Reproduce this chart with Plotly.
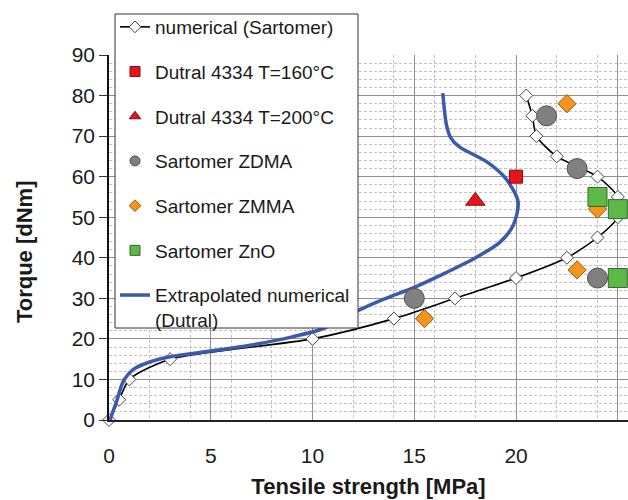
import plotly.graph_objects as go

# Numerical (Sartomer)
num_x = [0, 0.5, 1, 3, 10, 14, 17, 20, 22.5, 24, 25, 25, 24, 22, 21, 20.8, 20.5]
num_y = [0, 5, 10, 15, 20, 25, 30, 35, 40, 45, 50, 55, 60, 65, 70, 75, 80]

# Extrapolated numerical (Dutral)
ext_x = [0.05, 0.4, 0.7, 1.2, 2, 3, 5, 7, 9, 10.5, 12.2, 13.5, 15, 16.25, 17.9, 19.2, 19.86,
         20.1, 19.5, 18.55, 17.2, 16.8, 16.58, 16.4]
ext_y = [0, 5, 9.5, 12.5, 14.3, 15.6, 17, 18.5, 20.5, 22.5, 26.9, 29.8, 32.7, 35.6, 39.7, 43.8, 48,
         53.8, 59.5, 63.7, 67.4, 69.5, 72.8, 80.6]

d160_x = [20]
d160_y = [60]
d200_x = [18]
d200_y = [54]
zdma_x = [15, 21.5, 23, 24]
zdma_y = [30, 75, 62, 35]
zmma_x = [15.5, 22.5, 24, 23]
zmma_y = [25, 78, 52, 37]
zno_x = [24, 25, 25]
zno_y = [55, 52, 35]

names = ["numerical (Sartomer)", "Dutral 4334 T=160°C", "Dutral 4334 T=200°C",
         "Sartomer ZDMA", "Sartomer ZMMA", "Sartomer ZnO",
         "Extrapolated numerical<br>(Dutral)"]

x_ticks = [0, 5, 10, 15, 20, 25]
y_ticks = [0, 10, 20, 30, 40, 50, 60, 70, 80, 90]

fig = go.Figure()

BLUE = "#3b5aab"
RED = "#e8141c"
GRAY = "#808080"
ORANGE = "#f7941d"
GREEN = "#5cb847"

fig.add_trace(go.Scatter(x=num_x, y=num_y, mode="lines+markers", showlegend=False,
                         cliponaxis=False,
                         line=dict(color="black", width=1.6, shape="spline", smoothing=0.7),
                         marker=dict(symbol="diamond", size=10, color="white",
                                     line=dict(color="#444", width=1))))
fig.add_trace(go.Scatter(x=ext_x, y=ext_y, mode="lines", showlegend=False,
                         line=dict(color=BLUE, width=3.5, shape="spline", smoothing=0.8)))
fig.add_trace(go.Scatter(x=d160_x, y=d160_y, mode="markers", showlegend=False,
                         marker=dict(symbol="square", size=13, color=RED,
                                     line=dict(color="#7a1010", width=1))))
fig.add_trace(go.Scatter(x=d200_x, y=d200_y, mode="markers", showlegend=False,
                         marker=dict(symbol="triangle-up", size=17, color=RED,
                                     line=dict(color="#7a1010", width=1))))
fig.add_trace(go.Scatter(x=zdma_x, y=zdma_y, mode="markers", showlegend=False,
                         marker=dict(symbol="circle", size=20, color=GRAY,
                                     line=dict(color="#505050", width=1))))
fig.add_trace(go.Scatter(x=zmma_x, y=zmma_y, mode="markers", showlegend=False,
                         marker=dict(symbol="diamond", size=14, color=ORANGE,
                                     line=dict(color="#8a5a10", width=1))))
fig.add_trace(go.Scatter(x=zno_x, y=zno_y, mode="markers", showlegend=False,
                         marker=dict(symbol="square", size=19, color=GREEN,
                                     line=dict(color="#2f6a2a", width=1))))

# legend entries
leg_styles = [
    dict(mode="lines+markers", line=dict(color="black", width=1.6),
         marker=dict(symbol="diamond", size=9, color="white", line=dict(color="#444", width=1))),
    dict(mode="markers", marker=dict(symbol="square", size=10, color=RED, line=dict(color="#7a1010", width=1))),
    dict(mode="markers", marker=dict(symbol="triangle-up", size=10, color=RED, line=dict(color="#7a1010", width=1))),
    dict(mode="markers", marker=dict(symbol="circle", size=10, color=GRAY, line=dict(color="#505050", width=1))),
    dict(mode="markers", marker=dict(symbol="diamond", size=9, color=ORANGE, line=dict(color="#8a5a10", width=1))),
    dict(mode="markers", marker=dict(symbol="square", size=10, color=GREEN, line=dict(color="#2f6a2a", width=1))),
    dict(mode="lines", line=dict(color=BLUE, width=3.5)),
]
for i, (nm, st) in enumerate(zip(names, leg_styles)):
    fig.add_trace(go.Scatter(x=[None], y=[None], name=nm, legendgroup=f"g{i}",
                             showlegend=True, **st))

grid_major = "#8f8f8f"
grid_minor = "#c2c2c2"

# legend frame (pixels -> paper)
L, T, R, B = 109, 55, 628, 420
def px_x(p):
    return (p - L) / (R - L)
def px_y(p):
    return (B - p) / (B - T)

fig.update_layout(
    width=628, height=500,
    margin=dict(l=109, r=0, t=55, b=80),
    paper_bgcolor="white", plot_bgcolor="white",
    font=dict(family="Liberation Sans, Arial, sans-serif", color="#1a1a1a"),
    legend=dict(x=px_x(115), y=px_y(8), xanchor="left", yanchor="top",
                bgcolor="rgba(0,0,0,0)", borderwidth=0,
                font=dict(size=19, color="#1a1a1a"),
                traceorder="grouped", tracegroupgap=17, valign="top",
                entrywidth=214, entrywidthmode="pixels", maxheight=480),
    shapes=[dict(type="rect", xref="paper", yref="paper",
                 x0=px_x(115), x1=px_x(358), y0=px_y(328), y1=px_y(14),
                 fillcolor="white", line=dict(color="#333", width=1), layer="above")],
    xaxis=dict(range=[0, 25.5], tickvals=x_ticks, ticktext=[str(v) for v in x_ticks],
               showgrid=True, gridcolor=grid_major, gridwidth=1.2,
               minor=dict(dtick=2, tick0=0, showgrid=True, gridcolor=grid_minor,
                          griddash="3px,2px", gridwidth=1),
               showline=True, linecolor="#222", linewidth=1.5,
               ticks="", ticklabelstandoff=16, tickfont=dict(size=21),
               zeroline=False,
               title=dict(text="<b>Tensile strength [MPa]</b>", font=dict(size=22), standoff=13)),
    yaxis=dict(range=[0, 90], tickvals=y_ticks, ticktext=[str(v) for v in y_ticks],
               showgrid=True, gridcolor=grid_major, gridwidth=1.2,
               minor=dict(dtick=2, tick0=0, showgrid=True, gridcolor=grid_minor,
                          griddash="3px,2px", gridwidth=1),
               showline=True, linecolor="#111", linewidth=1.6,
               ticks="outside", ticklen=8, tickcolor="#333", tickwidth=1.2,
               tickfont=dict(size=21), zeroline=False),
    annotations=[dict(text="<b>Torque [dNm]</b>", textangle=-90, font=dict(size=22),
                      xref="paper", yref="paper", x=(24 - 109) / 519, y=0.46,
                      xanchor="center", yanchor="middle", showarrow=False)],
)

fig.write_html("out.html")
